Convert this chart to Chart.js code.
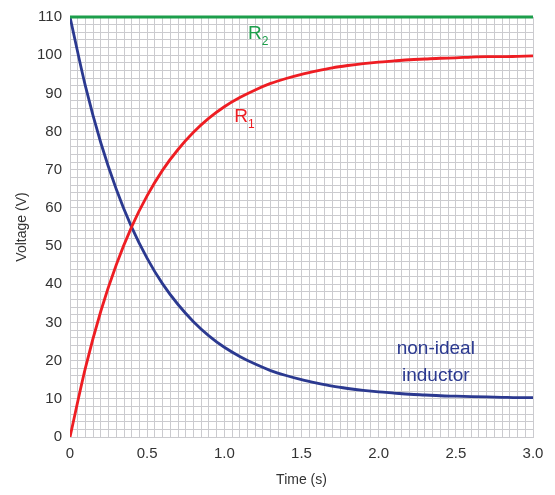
<!DOCTYPE html>
<html>
<head>
<meta charset="utf-8">
<script src="https://cdn.jsdelivr.net/npm/chart.js@4"></script>
<style>
  html, body { margin: 0; padding: 0; background: #fff; }
  #box { width: 555px; height: 495px; }
</style>
</head>
<body>
<div id="box"><canvas id="grafico"></canvas></div>
<script>
// tempo (s)
var tempo = [0, 0.1, 0.2, 0.3, 0.4, 0.5, 0.6, 0.7, 0.8, 0.9, 1.0,
  1.1, 1.2, 1.3, 1.4, 1.5, 1.6, 1.7, 1.8, 1.9, 2.0,
  2.1, 2.2, 2.3, 2.4, 2.5, 2.6, 2.7, 2.8, 2.9, 3.0];

// tensao no indutor nao ideal (V)
var indutor = [110, 91.9, 77.0, 64.9, 54.9, 46.8, 40.1, 34.7, 30.2, 26.5, 23.5,
  21.1, 19.1, 17.4, 16.1, 15.0, 14.1, 13.3, 12.7, 12.2, 11.8,
  11.5, 11.2, 11.0, 10.8, 10.7, 10.6, 10.5, 10.4, 10.3, 10.3];

// tensao em R1 (V)
var r1 = [0, 18.1, 33.0, 45.1, 55.1, 63.2, 69.9, 75.3, 79.8, 83.5, 86.5,
  88.9, 90.9, 92.6, 93.9, 95.0, 95.9, 96.7, 97.3, 97.8, 98.2,
  98.5, 98.8, 99.0, 99.2, 99.3, 99.5, 99.6, 99.6, 99.7, 99.8];

// tensao em R2 (V)
var r2Tempo = [0, 3.0];
var r2 = [110, 110];

var xLabels = ['0', '0.5', '1.0', '1.5', '2.0', '2.5', '3.0'];
var yLabels = ['0', '10', '20', '30', '40', '50', '60', '70', '80', '90', '100', '110'];

function pontos(xs, ys) {
  return xs.map(function (x, i) { return { x: x, y: ys[i] }; });
}

// textos dentro do grafico
var rotulos = {
  id: 'rotulos',
  afterDatasetsDraw: function (chart) {
    var ctx = chart.ctx, sx = chart.scales.x, sy = chart.scales.y;
    function sub(txt, s, x, y, cor) {
      ctx.fillStyle = cor;
      ctx.font = '19px "Liberation Sans", Arial, sans-serif';
      ctx.textAlign = 'left';
      ctx.textBaseline = 'middle';
      var w = ctx.measureText(txt).width;
      ctx.font = '12px "Liberation Sans", Arial, sans-serif';
      var w2 = ctx.measureText(s).width;
      var x0 = x - (w + w2) / 2;
      ctx.font = '19px "Liberation Sans", Arial, sans-serif';
      ctx.fillText(txt, x0, y);
      ctx.font = '12px "Liberation Sans", Arial, sans-serif';
      ctx.fillText(s, x0 + w, y + 8);
    }
    ctx.save();
    sub('R', '2', sx.getPixelForValue(1.22), sy.getPixelForValue(105.6), '#1c9e4b');
    sub('R', '1', sx.getPixelForValue(1.13), sy.getPixelForValue(84), '#ee1d23');
    ctx.fillStyle = '#2b3990';
    ctx.font = '19px "Liberation Sans", Arial, sans-serif';
    ctx.textAlign = 'center';
    ctx.textBaseline = 'middle';
    ctx.fillText('non-ideal', sx.getPixelForValue(2.37), sy.getPixelForValue(23));
    ctx.fillText('inductor', sx.getPixelForValue(2.37), sy.getPixelForValue(16));
    ctx.restore();
  }
};

var ctx = document.getElementById('grafico').getContext('2d');
var grafico = new Chart(ctx, {
  type: 'line',
  data: {
    datasets: [{
      data: pontos(r2Tempo, r2),
      borderColor: '#1c9e4b',
      borderWidth: 3,
      pointRadius: 0,
      clip: false
    }, {
      data: pontos(tempo, r1),
      borderColor: '#ee1d23',
      borderWidth: 2.8,
      pointRadius: 0,
      cubicInterpolationMode: 'monotone'
    }, {
      data: pontos(tempo, indutor),
      borderColor: '#2b3990',
      borderWidth: 2.8,
      pointRadius: 0,
      cubicInterpolationMode: 'monotone'
    }]
  },
  options: {
    responsive: true,
    maintainAspectRatio: false,
    animation: false,
    layout: { padding: { top: 13, right: 22, left: 0, bottom: 0 } },
    plugins: { legend: { display: false }, tooltip: { enabled: false } },
    scales: {
      x: {
        type: 'linear',
        min: 0,
        max: 3,
        afterBuildTicks: function (scale) {
          var t = [];
          for (var i = 0; i <= 60; i++) t.push({ value: i * 0.05 });
          scale.ticks = t;
        },
        afterFit: function (scale) { scale.height = 58; },
        grid: { color: '#cbcbcf', lineWidth: 1, drawTicks: false },
        border: { color: '#cbcbcf' },
        ticks: {
          autoSkip: false,
          maxRotation: 0,
          padding: 8,
          color: '#333',
          font: { family: '"Liberation Sans", Arial, sans-serif', size: 15 },
          callback: function (v, i) { return i % 10 === 0 ? xLabels[i / 10] : ''; }
        },
        title: {
          display: true,
          text: 'Time (s)',
          color: '#333',
          font: { family: '"Liberation Sans", Arial, sans-serif', size: 14 },
          padding: { top: 4, bottom: 6 }
        }
      },
      y: {
        type: 'linear',
        min: 0,
        max: 110,
        afterBuildTicks: function (scale) {
          var t = [];
          for (var i = 0; i <= 55; i++) t.push({ value: i * 2 });
          scale.ticks = t;
        },
        afterFit: function (scale) { scale.width = 70; },
        grid: { color: '#cbcbcf', lineWidth: 1, drawTicks: false },
        border: { color: '#cbcbcf' },
        ticks: {
          autoSkip: false,
          padding: 8,
          color: '#333',
          font: { family: '"Liberation Sans", Arial, sans-serif', size: 15 },
          callback: function (v, i) { return i % 5 === 0 ? yLabels[i / 5] : ''; }
        },
        title: {
          display: true,
          text: 'Voltage (V)',
          color: '#333',
          font: { family: '"Liberation Sans", Arial, sans-serif', size: 14 },
          padding: { top: 14, bottom: 4 }
        }
      }
    }
  },
  plugins: [rotulos]
});
</script>
</body>
</html>
